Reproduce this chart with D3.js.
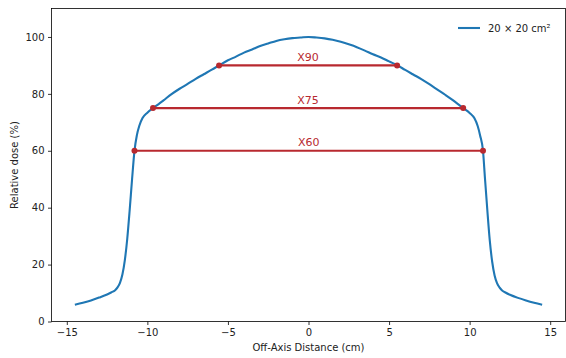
<!DOCTYPE html>
<html>
<head>
<meta charset="utf-8">
<script src="https://cdn.jsdelivr.net/npm/d3@7/dist/d3.min.js"></script>
<style>
  html, body { margin: 0; padding: 0; background: #fff; }
  svg { display: block; font-family: "DejaVu Sans", sans-serif; }
</style>
</head>
<body>
<svg id="chart" width="566" height="358"></svg>
<script>
// Off-axis positions (cm) of the measured beam profile
const offAxis = [
  -14.5, -14.0, -13.5, -13.0, -12.5, -12.25, -12.0, -11.85, -11.7, -11.55, -11.4, -11.25,
  -11.1, -10.95, -10.8, -10.65, -10.5, -10.3, -10.0, -9.65, -9.3, -9.0, -8.5, -8.0, -7.5,
  -7.0, -6.5, -6.0, -5.55, -5.0, -4.5, -4.0, -3.5, -3.0, -2.5, -2.0, -1.5, -1.0, -0.5,
  0.0, 0.5, 1.0, 1.5, 2.0, 2.5, 3.0, 3.5, 4.0, 4.5, 5.0, 5.5, 6.0, 6.5, 7.0, 7.5, 8.0,
  8.5, 9.0, 9.3, 9.6, 10.0, 10.3, 10.5, 10.65, 10.83, 10.95, 11.1, 11.25, 11.4, 11.55,
  11.7, 11.85, 12.0, 12.25, 12.5, 13.0, 13.5, 14.0, 14.5
];
// Relative dose (%) at each position
const relDose = [
  5.9, 6.6, 7.4, 8.4, 9.5, 10.2, 11.0, 12.0, 13.6, 16.5, 21.5, 29.0,
  39.0, 50.0, 60.0, 65.5, 68.8, 71.5, 73.4, 75.0, 76.4, 77.7, 79.9, 81.8, 83.5,
  85.3, 86.9, 88.5, 90.0, 91.8, 93.1, 94.5, 95.6, 96.8, 97.7, 98.6, 99.2, 99.6, 99.8,
  100.0, 99.8, 99.5, 99.0, 98.3, 97.4, 96.4, 95.2, 93.9, 92.8, 91.4, 90.1, 88.4, 86.8, 85.2, 83.4, 81.5,
  79.6, 77.6, 76.3, 75.0, 73.3, 71.4, 68.7, 65.4, 60.0, 50.5, 39.0, 28.5, 21.0, 16.2,
  13.5, 12.0, 11.0, 10.1, 9.4, 8.3, 7.4, 6.6, 5.9
];

// Field-width levels and where the profile crosses them
const levelNames = ["X90", "X75", "X60"];
const levelDose = [90, 75, 60];
const levelLeft = [-5.55, -9.65, -10.8];
const levelRight = [5.5, 9.6, 10.83];

const xTicks = [-15, -10, -5, 0, 5, 10, 15];
const yTicks = [0, 20, 40, 60, 80, 100];
const seriesLabel = "20 × 20 cm²";

const svg = d3.select("#chart");
const plotL = 51.5, plotR = 565.5, plotT = 8.5, plotB = 321.5;

const x = d3.scaleLinear().domain([-15.95, 15.95]).range([plotL, plotR]);
const y = d3.scaleLinear().domain([0, 110]).range([plotB, plotT]);

const blue = "#1f77b4";
const red = "#b8292f";

// Profile curve
const line = d3.line()
  .x((d, i) => x(offAxis[i]))
  .y(d => y(d))
  .curve(d3.curveMonotoneX);

svg.append("path")
  .datum(relDose)
  .attr("d", line)
  .attr("fill", "none")
  .attr("stroke", blue)
  .attr("stroke-width", 2.1)
  .attr("stroke-linejoin", "round");

// Width markers
const levels = levelNames.map((name, i) => ({
  name, dose: levelDose[i], x0: levelLeft[i], x1: levelRight[i]
}));

const g = svg.append("g");
g.selectAll("line.level").data(levels).join("line")
  .attr("class", "level")
  .attr("x1", d => x(d.x0)).attr("x2", d => x(d.x1))
  .attr("y1", d => y(d.dose)).attr("y2", d => y(d.dose))
  .attr("stroke", red).attr("stroke-width", 2.1);

g.selectAll("circle.end").data(levels.flatMap(d => [[d.x0, d.dose], [d.x1, d.dose]])).join("circle")
  .attr("class", "end")
  .attr("cx", d => x(d[0])).attr("cy", d => y(d[1]))
  .attr("r", 3).attr("fill", red);

g.selectAll("text.lab").data(levels).join("text")
  .attr("class", "lab")
  .attr("x", d => x((d.x0 + d.x1) / 2))
  .attr("y", d => y(d.dose) - 4.5)
  .attr("text-anchor", "middle")
  .attr("fill", red)
  .attr("font-size", 11)
  .text(d => d.name);

// Axes
const xAxis = d3.axisBottom(x).tickValues(xTicks).tickSize(3.5).tickPadding(3.5)
  .tickFormat(d3.format("d"));
const yAxis = d3.axisLeft(y).tickValues(yTicks).tickSize(3.5).tickPadding(3.5)
  .tickFormat(d3.format("d"));

const gx = svg.append("g").attr("transform", `translate(0,${plotB})`).call(xAxis);
const gy = svg.append("g").attr("transform", `translate(${plotL},0)`).call(yAxis);
[gx, gy].forEach(a => {
  a.select(".domain").remove();
  a.selectAll("line").attr("stroke", "#000").attr("stroke-width", 0.8);
  a.selectAll("text").attr("font-size", 10).attr("fill", "#222")
    .attr("font-family", "DejaVu Sans, sans-serif");
});

// Frame
svg.append("rect")
  .attr("x", plotL).attr("y", plotT)
  .attr("width", plotR - plotL).attr("height", plotB - plotT)
  .attr("fill", "none").attr("stroke", "#000").attr("stroke-width", 0.8);

// Axis titles
svg.append("text")
  .attr("x", (plotL + plotR) / 2).attr("y", 351)
  .attr("text-anchor", "middle").attr("font-size", 10).attr("fill", "#222")
  .text("Off-Axis Distance (cm)");

svg.append("text")
  .attr("transform", `translate(18,${(plotT + plotB) / 2}) rotate(-90)`)
  .attr("text-anchor", "middle").attr("font-size", 10).attr("fill", "#222")
  .text("Relative dose (%)");

// Legend
const lg = svg.append("g").attr("transform", "translate(458,28)");
lg.append("line").attr("x1", 0).attr("x2", 22).attr("y1", 0).attr("y2", 0)
  .attr("stroke", blue).attr("stroke-width", 2.1);
lg.append("text").attr("x", 30).attr("y", 3.5).attr("font-size", 10).attr("fill", "#222")
  .text(seriesLabel);
</script>
</body>
</html>
